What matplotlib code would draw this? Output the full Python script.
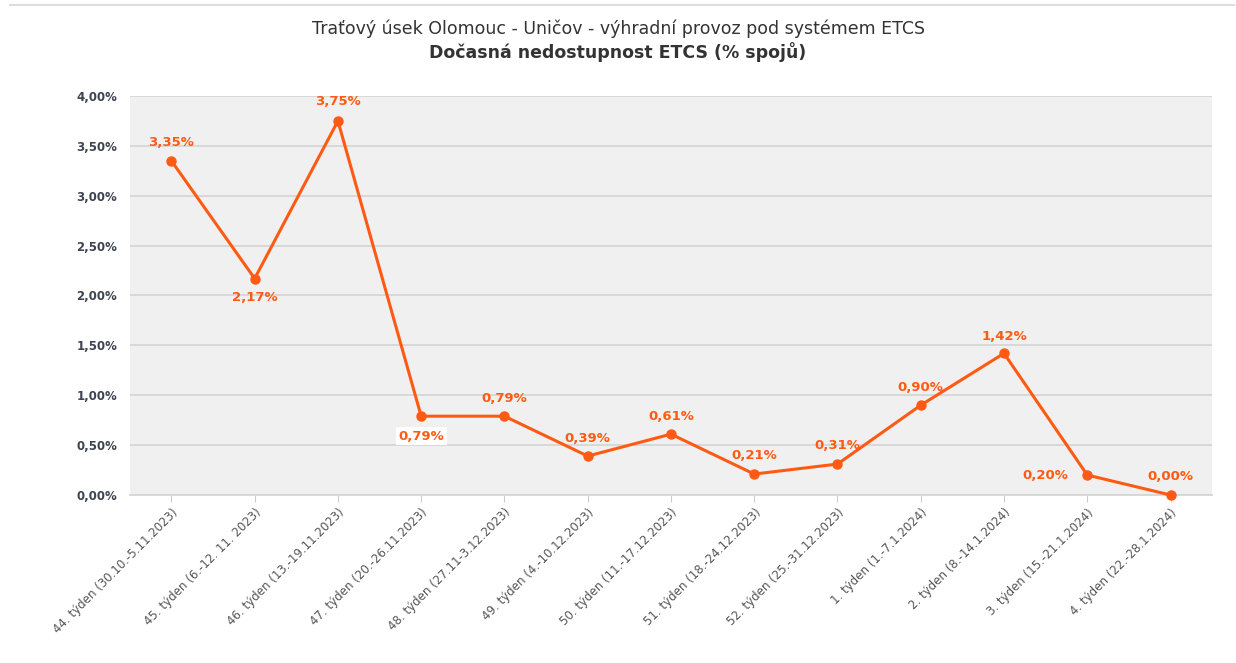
import matplotlib.pyplot as plt
from matplotlib.lines import Line2D

# data
weeks = [
    "44. týden (30.10.-5.11.2023)",
    "45. týden (6.-12. 11. 2023)",
    "46. týden (13.-19.11.2023)",
    "47. týden (20.-26.11.2023)",
    "48. týden (27.11-3.12.2023)",
    "49. týden (4.-10.12.2023)",
    "50. týden (11.-17.12.2023)",
    "51. týden (18.-24.12.2023)",
    "52. týden (25.-31.12.2023)",
    "1. týden (1.-7.1.2024)",
    "2. týden (8.-14.1.2024)",
    "3. týden (15.-21.1.2024)",
    "4. týden (22.-28.1.2024)",
]
unavailable = [3.35, 2.17, 3.75, 0.79, 0.79, 0.39, 0.61, 0.21, 0.31, 0.90, 1.42, 0.20, 0.00]
yticks = [0, 0.5, 1.0, 1.5, 2.0, 2.5, 3.0, 3.5, 4.0]

# label offsets in pixels (placement only)
label_offsets = [(0, 18), (0, -19), (0, 19), (0, -20), (0, 18), (0, 18), (0, 18),
                 (0, 19), (0, 19), (0, 18), (0, 17), (-42, 0), (0, 18)]

orange = "#ff5a14"

fig = plt.figure(figsize=(12.36, 6.63), dpi=100)
ax = fig.add_axes([0.105, 0.2534, 0.8757, 0.6018])
ax.set_facecolor("#f0f0f0")

x = list(range(len(weeks)))
ax.plot(x, unavailable, color=orange, lw=2.2, marker="o", ms=6.5, zorder=3, clip_on=False)

for i, v in enumerate(unavailable):
    dx, dy = label_offsets[i]
    txt = ax.annotate(f"{v:.2f}%".replace(".", ","), (i, v), xytext=(dx, dy),
                      textcoords="offset pixels", ha="center", va="center",
                      color=orange, fontsize=9.5, fontweight="bold", zorder=4)
    if i == 3:
        txt.set_bbox(dict(facecolor="white", edgecolor="none", pad=2))

ax.set_xlim(-0.5, len(weeks) - 0.5)
ax.set_ylim(0, 4.0)
ax.set_yticks(yticks)
ax.set_yticklabels([f"{t:.2f}%".replace(".", ",") for t in yticks],
                   fontsize=8.5, fontweight="bold", color="#3d4350")
ax.tick_params(axis="y", length=0, pad=9)
ax.grid(axis="y", color="#d6d6d6", lw=1.3)
ax.set_axisbelow(True)

ax.set_xticks(x)
ax.set_xticklabels(weeks, rotation=45, ha="right", rotation_mode="anchor",
                   fontsize=8.5, color="#555555")
ax.tick_params(axis="x", length=5, color="#cccccc", pad=3)

for s in ["top", "right", "left"]:
    ax.spines[s].set_visible(False)
ax.spines["bottom"].set_color("#d6d6d6")
ax.spines["bottom"].set_linewidth(1.3)

fig.text(0.5, 0.956, "Traťový úsek Olomouc - Uničov - výhradní provoz pod systémem ETCS",
         ha="center", va="center", fontsize=12.5, color="#333333")
fig.text(0.5, 0.921, "Dočasná nedostupnost ETCS (% spojů)",
         ha="center", va="center", fontsize=12.5, fontweight="bold", color="#333333")

# thin border line at the top of the picture
fig.add_artist(Line2D([0.008, 0.998], [0.992, 0.992], transform=fig.transFigure,
                      color="#dddddd", lw=1.5))

fig.savefig("out.png", dpi=100)
